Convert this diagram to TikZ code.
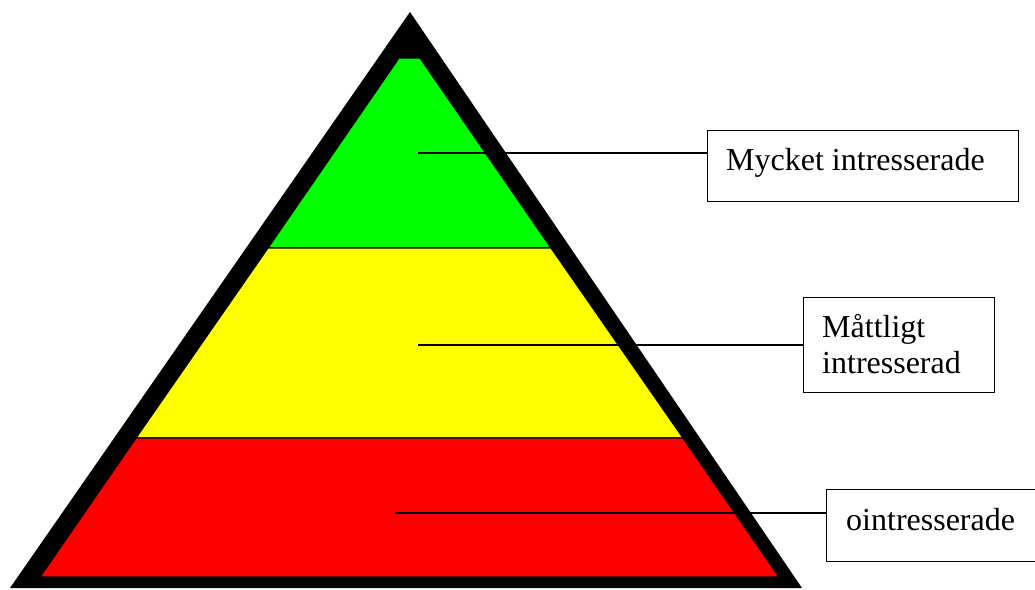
\documentclass[tikz,border=0pt]{standalone}
\usepackage{fontspec}
\setmainfont{Liberation Serif}
\definecolor{pgreen}{RGB}{0,255,0}
\definecolor{pyellow}{RGB}{255,255,0}
\definecolor{pred}{RGB}{255,0,0}
\begin{document}
\begin{tikzpicture}[x=1pt,y=-1pt,
  band/.style={draw=black,line width=1.2pt},
  conn/.style={draw=black,line width=1.3pt},
  box/.style={draw=black,line width=1.3pt,fill=white,inner sep=0pt,anchor=north west},
  lbl/.style={font=\fontsize{32}{36}\selectfont,inner sep=0pt,anchor=base west,align=left}]
\useasboundingbox (0,0) rectangle (1035,589);
\clip (0,0) rectangle (1035,589);
% outer black triangle
\fill[black] (410,12) -- (802,588) -- (10,588) -- cycle;
% bands
\path[band,fill=pgreen] (399,58) -- (420,58) -- (551,248) -- (268,248) -- cycle;
\path[band,fill=pyellow] (268,248) -- (551,248) -- (683,438) -- (136,438) -- cycle;
\path[band,fill=pred] (136,438) -- (683,438) -- (779,577) -- (40,577) -- cycle;
% boxes
\node[box,minimum width=311pt,minimum height=71pt] (b1) at (707,130) {};
\node[lbl] (t1) at (726,170) {Mycket intresserade};
\node[box,minimum width=191pt,minimum height=95pt] (b2) at (803,297) {};
\node[lbl] (t2) at (822,337) {Måttligt};
\node[lbl] (t3) at (822,373) {intresserad};
\node[box,minimum width=260pt,minimum height=72pt] (b3) at (826,489) {};
\node[lbl] (t4) at (846,530) {ointresserade};
% connectors
\coordinate (c1) at (418,153);
\coordinate (c2) at (418,345);
\coordinate (c3) at (395,513);
\draw[conn] (c1) -- (c1 -| b1.west);
\draw[conn] (c2) -- (c2 -| b2.west);
\draw[conn] (c3) -- (c3 -| b3.west);
\end{tikzpicture}
\end{document}
